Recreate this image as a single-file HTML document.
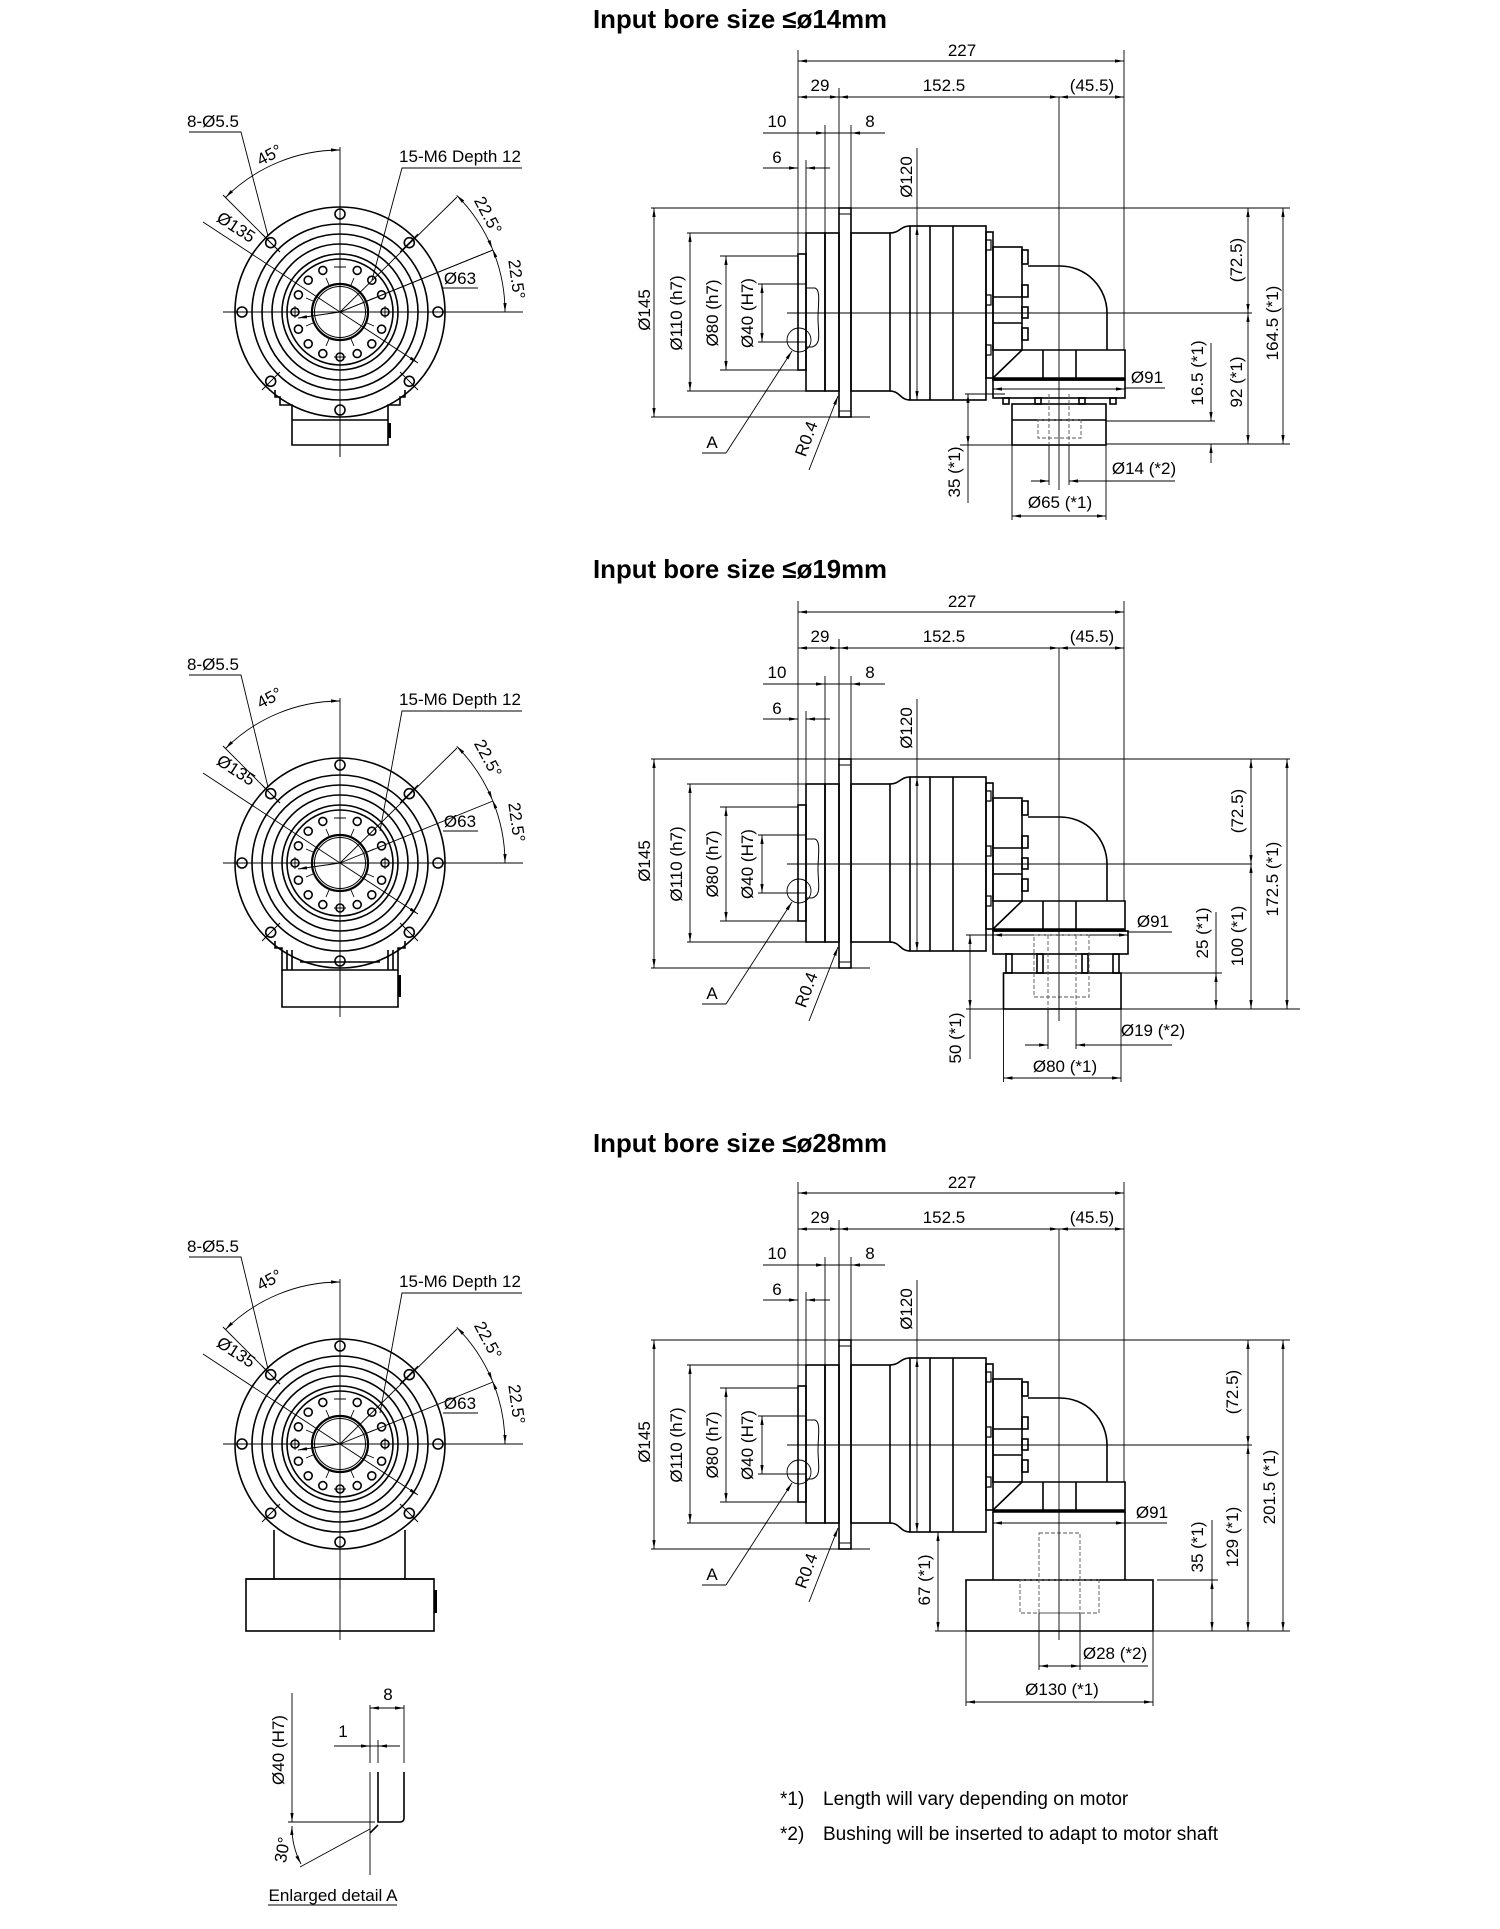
<!DOCTYPE html>
<html><head><meta charset="utf-8"><style>
html,body{margin:0;padding:0;background:#fff}
svg{display:block}
text{font-family:"Liberation Sans",sans-serif;font-size:17px;fill:#000;text-anchor:middle}
.ti{font-size:26px;font-weight:bold}
.fn{font-size:19px;text-anchor:start}
.o{fill:none;stroke:#000;stroke-width:1.6}
.d{fill:none;stroke:#000;stroke-width:0.9}
.a{fill:none;stroke:#000;stroke-width:0.9;marker-end:url(#ar)}
.aa{fill:none;stroke:#000;stroke-width:0.9;marker-end:url(#ar);marker-start:url(#ar)}
.ds{fill:none;stroke:#555;stroke-width:0.9;stroke-dasharray:4 2}
</style></head><body>
<svg width="1500" height="1929" viewBox="0 0 1500 1929" xmlns="http://www.w3.org/2000/svg">
<defs>
<marker id="ar" viewBox="0 0 10 10" refX="10" refY="5" markerWidth="9" markerHeight="9" orient="auto-start-reverse" markerUnits="userSpaceOnUse"><path d="M0,3.2 L10,5 L0,6.8 z" fill="#000"/></marker>
<g id="fv">
<g class="o"><circle r="105"/><circle r="88"/><circle r="78"/><circle r="68"/><circle r="58"/><circle r="53"/><circle r="28" stroke-width="2.2"/><circle r="25.5" stroke-width="1"/></g>
<g class="o" stroke-width="1.3">
<circle cx="98" cy="0" r="5"/><circle cx="69.3" cy="69.3" r="5"/><circle cx="0" cy="98" r="5"/><circle cx="-69.3" cy="69.3" r="5"/><circle cx="-98" cy="0" r="5"/><circle cx="-69.3" cy="-69.3" r="5"/><circle cx="0" cy="-98" r="5"/><circle cx="69.3" cy="-69.3" r="5"/>
<circle cx="17.2" cy="-41.6" r="4"/><circle cx="31.8" cy="-31.8" r="4"/><circle cx="41.6" cy="-17.2" r="4"/><circle cx="45" cy="0" r="4"/><circle cx="41.6" cy="17.2" r="4"/><circle cx="31.8" cy="31.8" r="4"/><circle cx="17.2" cy="41.6" r="4"/><circle cx="0" cy="45" r="4"/>
<circle cx="-17.2" cy="-41.6" r="4"/><circle cx="-31.8" cy="-31.8" r="4"/><circle cx="-41.6" cy="-17.2" r="4"/><circle cx="-45" cy="0" r="4"/><circle cx="-41.6" cy="17.2" r="4"/><circle cx="-31.8" cy="31.8" r="4"/><circle cx="-17.2" cy="41.6" r="4"/>
</g>
<g class="d" stroke-width="0.7">
<path d="M-60,-60 L-78,-78 M60,60 L78,78 M-60,60 L-78,78 M60,-60 L78,-78"/>
<path d="M-6,-45H6 M-6,45H6 M45,-6V6 M-45,-6V6 M11,-27 L14,-34 M-11,-27 L-14,-34 M11,27 L14,34 M-11,27 L-14,34 M27,-11 L34,-14 M-27,-11 L-34,-14 M27,11 L34,14 M-27,11 L-34,14"/>
</g>
<path class="d" d="M-117,0 H183 M0,-165 V145"/>
</g>
<g id="body" class="o">
<rect x="798" y="254" width="8" height="116"/>
<path d="M798,284 H806 M798,342 H806" stroke-width="1"/>
<rect x="806" y="233" width="19" height="158"/>
<rect x="825" y="233" width="14" height="158"/>
<rect x="839" y="208" width="12" height="209"/>
<path d="M839,214 H851 M839,411 H851" stroke-width="1"/>
<rect x="851" y="233" width="39" height="158"/>
<path d="M890,233 C900,233 900,226 910,226 M890,391 C900,391 900,400 910,400"/>
<rect x="910" y="226" width="76" height="174"/>
<path d="M930,226 V400 M953,226 V400"/>
<rect x="986" y="232" width="7" height="146"/>
<path d="M986,240 h5 v10 h-5 M986,295 h5 v10 h-5 M986,345 h5 v10 h-5" stroke-width="1.2"/>
<rect x="993" y="247" width="29" height="103"/>
<path d="M993,297 H1022 M993,323 H1022"/>
<rect x="1022" y="250" width="6" height="14"/><rect x="1022" y="285" width="6" height="12"/><rect x="1022" y="307" width="6" height="11"/><rect x="1022" y="328" width="6" height="12"/>
<path d="M1028,266 H1060 A47,47 0 0 1 1107,313 V350"/>
<path d="M1022,350 H1125 V380 H993 V378 Z"/>
<path d="M1043,350 V378 M1076,350 V378"/>
<path d="M993,378.5 H1125" stroke-width="2.6"/>
<path d="M806,288 H815 C821,290 818,305 818,318 C818,333 822,344 812,347 H806" stroke-width="1"/>
</g>
<g id="cdim">
<path class="d" d="M798,50 V254 M1124,50 V350 M839,88 V208 M825,125 V233 M851,125 V208 M806,160 V254 M917,148 V226"/>
<path class="aa" d="M798,61 H1124"/>
<path class="aa" d="M798,97 H839"/><path class="aa" d="M839,97 H1059"/><path class="aa" d="M1059,97 H1124"/>
<path class="a" d="M763,133 H825"/><path class="a" d="M885,133 H851"/><path class="d" d="M825,133 H851"/>
<path class="a" d="M763,168 H798"/><path class="a" d="M830,168 H806"/>
<path class="d" d="M651,208 H1290 M651,417 H870 M687,233 H806 M687,391 H806 M720,256 H798 M720,370 H798 M758,284 H806 M758,342 H806 M787,313 H1252"/>
<path class="aa" d="M654,208 V417"/><path class="aa" d="M690,233 V391"/><path class="aa" d="M726,256 V370"/><path class="aa" d="M762,284 V342"/>
<path class="aa" d="M917,226 V400"/>
<circle class="d" cx="799" cy="340" r="12"/>
<path class="a" d="M726,453 L792,351"/><path class="d" d="M702,453 H726"/>
<path class="a" d="M809,470 L838,396"/>
</g>
</defs>

<!-- ===== VIEW 1 ===== -->
<text class="ti" x="740" y="28" textLength="294" lengthAdjust="spacingAndGlyphs">Input bore size ≤ø14mm</text>
<use href="#fv" transform="translate(340,312)"/>
<path class="o" d="M275,390 V397 H280 V405 H292 V445 H388 V405 H400 V397 H405 V390"/>
<path class="o" d="M292,420 H388" stroke-width="2.4"/>
<rect x="388" y="423" width="3" height="15" fill="#000"/>
<path class="d" d="M340,420 V457"/>
<g>
<text x="213" y="127">8-Ø5.5</text><path class="d" d="M189,132 H241 L268,236"/>
<path class="aa" d="M340,150 A162,162 0 0 0 225.5,197.5"/><path class="d" d="M280,252 L223,195"/>
<text transform="translate(272,160) rotate(-28)">45°</text>
<text x="460" y="162">15-M6 Depth 12</text><path class="d" d="M522,168 H402 L372,280"/>
<text transform="translate(233,232) rotate(33)">Ø135</text><path class="d" d="M203,222 L340,312"/><path class="a" d="M340,312 L418,363"/>
<path class="d" d="M340,312 L457,197 M340,312 L493,250"/>
<path class="aa" d="M456.7,195.3 A165,165 0 0 1 492.4,248.9"/><path class="aa" d="M492.4,248.9 A165,165 0 0 1 505,312"/>
<text transform="translate(483,218) rotate(62)">22.5°</text>
<text transform="translate(511,280) rotate(82)">22.5°</text>
<text x="460" y="284">Ø63</text><path class="d" d="M443,288 H478 M493,250 L340,312"/><path class="a" d="M340,312 L298,318"/>
</g>
<use href="#body"/>
<use href="#cdim"/>
<g>
<rect class="o" x="993" y="380" width="132" height="18"/>
<path class="aa" d="M993,389 H1125"/>
<g class="o"><rect x="1003" y="398" width="6" height="6"/><rect x="1035" y="398" width="6" height="6"/><rect x="1079" y="398" width="6" height="6"/><rect x="1110" y="398" width="6" height="6"/></g>
<rect class="o" x="1012" y="404" width="94" height="41"/><path class="o" d="M1012,420 H1106" stroke-width="1"/>
<rect class="ds" x="1038" y="420" width="43" height="18"/>
<path class="ds" d="M1049,394 V445 M1069,394 V445"/>
<path class="d" d="M1049,445 V485 M1069,445 V485 M1059,97 V490"/>
<path class="aa" d="M1248,208 V313"/><path class="aa" d="M1248,313 V444"/><path class="aa" d="M1283,208 V444"/>
<path class="d" d="M1106,421 H1215 M1106,444 H1290"/>
<path class="a" d="M1211,343 V421"/><path class="a" d="M1211,463 V444"/>
<path class="d" d="M965,394 H1005 M960,445 H1012"/>
<path class="aa" d="M968,394 V445"/><path class="d" d="M968,445 V503"/>
<path class="a" d="M1031,481 H1049"/><path class="a" d="M1175,481 H1069"/>
<path class="d" d="M1012,445 V520 M1106,445 V520"/><path class="aa" d="M1012,516 H1106"/>
<path class="d" d="M1125,388 H1165"/>
<text x="1147" y="383">Ø91</text>
<text transform="translate(1237,260) rotate(-90)" dy="5">(72.5)</text>
<text transform="translate(1237,382) rotate(-90)" dy="5">92 (*1)</text>
<text transform="translate(1273,323) rotate(-90)" dy="5">164.5 (*1)</text>
<text transform="translate(1198,373) rotate(-90)" dy="5">16.5 (*1)</text>
<text transform="translate(955,472) rotate(-90)" dy="5">35 (*1)</text>
<text x="1144" y="474">Ø14 (*2)</text>
<text x="1060" y="508">Ø65 (*1)</text>
</g>
<g>
<text x="962" y="56">227</text><text x="820" y="91">29</text><text x="944" y="91">152.5</text><text x="1092" y="91">(45.5)</text>
<text x="777" y="127">10</text><text x="870" y="127">8</text><text x="777" y="163">6</text>
<text transform="translate(907,177) rotate(-90)" dy="5">Ø120</text>
<text transform="translate(645,310) rotate(-90)" dy="5">Ø145</text>
<text transform="translate(677,313) rotate(-90)" dy="5">Ø110 (h7)</text>
<text transform="translate(713,313) rotate(-90)" dy="5">Ø80 (h7)</text>
<text transform="translate(748,313) rotate(-90)" dy="5">Ø40 (H7)</text>
<text x="712" y="448">A</text>
<text transform="translate(807,439) rotate(-70)" dy="5">R0.4</text>
</g>

<!-- ===== VIEW 2 ===== -->
<text class="ti" x="740" y="578" textLength="294" lengthAdjust="spacingAndGlyphs">Input bore size ≤ø19mm</text>
<use href="#fv" transform="translate(340,863)"/>
<path class="o" d="M275,941 V948 H282 V970 H398 V948 H405 V941"/>
<path class="o" d="M282,970 V1007 H398 V970"/>
<path class="o" d="M287,950 V970 M292,950 V970 M388,950 V970 M393,950 V970 M300,962 H380" stroke-width="1"/>
<rect x="398" y="975" width="3" height="22" fill="#000"/>
<path class="d" d="M340,970 V1017"/>
<g transform="translate(0,543)">
<text x="213" y="127">8-Ø5.5</text><path class="d" d="M189,132 H241 L268,244"/>
<text transform="translate(272,160) rotate(-28)">45°</text>
<text x="460" y="162">15-M6 Depth 12</text><path class="d" d="M522,168 H402 L380,288"/>
<text transform="translate(233,232) rotate(33)">Ø135</text>
<text transform="translate(483,218) rotate(62)">22.5°</text>
<text transform="translate(511,280) rotate(82)">22.5°</text>
<text x="460" y="284">Ø63</text><path class="d" d="M443,288 H478"/>
</g>
<g transform="translate(0,551)">
<path class="aa" d="M340,150 A162,162 0 0 0 225.5,197.5"/><path class="d" d="M280,252 L223,195"/>
<path class="d" d="M203,222 L340,312"/><path class="a" d="M340,312 L418,363"/>
<path class="d" d="M340,312 L457,197 M340,312 L493,250"/>
<path class="aa" d="M456.7,195.3 A165,165 0 0 1 492.4,248.9"/><path class="aa" d="M492.4,248.9 A165,165 0 0 1 505,312"/>
<path class="a" d="M340,312 L298,318"/>
<use href="#body"/>
<use href="#cdim"/>
<rect class="o" x="993" y="380" width="135" height="23"/>
<path class="aa" d="M993,384 H1128"/>
<g class="o" stroke-width="1.2"><rect x="1006" y="403" width="6" height="19"/><rect x="1037" y="403" width="6" height="19"/><rect x="1082" y="403" width="6" height="19"/><rect x="1113" y="403" width="6" height="19"/></g>
<rect class="o" x="1003.5" y="422" width="117.5" height="36"/>
<rect class="ds" x="1034" y="384" width="55" height="62"/>
<path class="ds" d="M1048,384 V458 M1076,384 V458"/>
<path class="d" d="M1048,458 V498 M1076,458 V498 M1059,97 V470"/>
<path class="aa" d="M1251,208 V313"/><path class="aa" d="M1251,313 V458"/><path class="aa" d="M1287,208 V458"/>
<path class="d" d="M1121,422 H1222 M1121,458 H1300"/>
<path class="d" d="M1216,361 V422"/><path class="aa" d="M1216,422 V458"/>
<path class="d" d="M966,384 H993 M966,458 H1003"/>
<path class="aa" d="M970,384 V458"/><path class="d" d="M970,458 V508"/>
<path class="a" d="M1025,494 H1048"/><path class="a" d="M1172,494 H1076"/>
<path class="d" d="M1003.5,458 V531 M1121,458 V531"/><path class="aa" d="M1003.5,527 H1121"/>
<path class="d" d="M1128,381 H1172"/>
<text x="1153" y="376">Ø91</text>
<text transform="translate(1238,260) rotate(-90)" dy="5">(72.5)</text>
<text transform="translate(1238,385) rotate(-90)" dy="5">100 (*1)</text>
<text transform="translate(1273,328) rotate(-90)" dy="5">172.5 (*1)</text>
<text transform="translate(1203,382) rotate(-90)" dy="5">25 (*1)</text>
<text transform="translate(956,487) rotate(-90)" dy="5">50 (*1)</text>
<text x="1153" y="485">Ø19 (*2)</text>
<text x="1065" y="521">Ø80 (*1)</text>
<text x="962" y="56">227</text><text x="820" y="91">29</text><text x="944" y="91">152.5</text><text x="1092" y="91">(45.5)</text>
<text x="777" y="127">10</text><text x="870" y="127">8</text><text x="777" y="163">6</text>
<text transform="translate(907,177) rotate(-90)" dy="5">Ø120</text>
<text transform="translate(645,310) rotate(-90)" dy="5">Ø145</text>
<text transform="translate(677,313) rotate(-90)" dy="5">Ø110 (h7)</text>
<text transform="translate(713,313) rotate(-90)" dy="5">Ø80 (h7)</text>
<text transform="translate(748,313) rotate(-90)" dy="5">Ø40 (H7)</text>
<text x="712" y="448">A</text>
<text transform="translate(807,439) rotate(-70)" dy="5">R0.4</text>
</g>

<!-- ===== VIEW 3 ===== -->
<text class="ti" x="740" y="1152" textLength="294" lengthAdjust="spacingAndGlyphs">Input bore size ≤ø28mm</text>
<use href="#fv" transform="translate(340,1444)"/>
<path class="o" d="M274,1530 V1579 M405,1530 V1579"/>
<rect class="o" x="246" y="1579" width="188" height="52"/>
<path class="o" d="M246,1579 H434" stroke-width="2.4"/>
<rect x="434" y="1590" width="3" height="23" fill="#000"/>
<path class="d" d="M340,1579 V1640"/>
<g transform="translate(0,1125)">
<text x="213" y="127">8-Ø5.5</text><path class="d" d="M189,132 H241 L268,244"/>
<text transform="translate(272,160) rotate(-28)">45°</text>
<text x="460" y="162">15-M6 Depth 12</text><path class="d" d="M522,168 H402 L380,288"/>
<text transform="translate(233,232) rotate(33)">Ø135</text>
<text transform="translate(483,218) rotate(62)">22.5°</text>
<text transform="translate(511,280) rotate(82)">22.5°</text>
<text x="460" y="284">Ø63</text><path class="d" d="M443,288 H478"/>
</g>
<g transform="translate(0,1132)">
<path class="aa" d="M340,150 A162,162 0 0 0 225.5,197.5"/><path class="d" d="M280,252 L223,195"/>
<path class="d" d="M203,222 L340,312"/><path class="a" d="M340,312 L418,363"/>
<path class="d" d="M340,312 L457,197 M340,312 L493,250"/>
<path class="aa" d="M456.7,195.3 A165,165 0 0 1 492.4,248.9"/><path class="aa" d="M492.4,248.9 A165,165 0 0 1 505,312"/>
<path class="a" d="M340,312 L298,318"/>
<use href="#body"/>
<use href="#cdim"/>
<path class="o" d="M993,380 V448 M1125,380 V448"/>
<rect class="o" x="966" y="448" width="187" height="51"/>
<rect class="ds" x="1039" y="401" width="41" height="80"/>
<rect class="ds" x="1020" y="448" width="79" height="33"/>
<path class="aa" d="M993,391 H1125"/>
<path class="d" d="M1039,481 V538 M1080,481 V538 M1059,97 V508"/>
<path class="aa" d="M1248,208 V313"/><path class="aa" d="M1248,313 V499"/><path class="aa" d="M1283,208 V499"/>
<path class="d" d="M1157,448 H1218 M935,499 H1290"/>
<path class="d" d="M1212,388 V448"/><path class="aa" d="M1212,448 V499"/>
<path class="d" d="M935,400 H960"/><path class="aa" d="M938,400 V499"/>
<path class="aa" d="M1039,534 H1080"/><path class="d" d="M1080,534 H1148"/>
<path class="d" d="M966,499 V574 M1153,499 V574"/><path class="aa" d="M966,570 H1153"/>
<path class="d" d="M1125,391 H1167"/>
<text x="1152" y="386">Ø91</text>
<text transform="translate(1233,260) rotate(-90)" dy="5">(72.5)</text>
<text transform="translate(1233,405) rotate(-90)" dy="5">129 (*1)</text>
<text transform="translate(1270,355) rotate(-90)" dy="5">201.5 (*1)</text>
<text transform="translate(1198,415) rotate(-90)" dy="5">35 (*1)</text>
<text transform="translate(925,448) rotate(-90)" dy="5">67 (*1)</text>
<text x="1115" y="527">Ø28 (*2)</text>
<text x="1062" y="563">Ø130 (*1)</text>
<text x="962" y="56">227</text><text x="820" y="91">29</text><text x="944" y="91">152.5</text><text x="1092" y="91">(45.5)</text>
<text x="777" y="127">10</text><text x="870" y="127">8</text><text x="777" y="163">6</text>
<text transform="translate(907,177) rotate(-90)" dy="5">Ø120</text>
<text transform="translate(645,310) rotate(-90)" dy="5">Ø145</text>
<text transform="translate(677,313) rotate(-90)" dy="5">Ø110 (h7)</text>
<text transform="translate(713,313) rotate(-90)" dy="5">Ø80 (h7)</text>
<text transform="translate(748,313) rotate(-90)" dy="5">Ø40 (H7)</text>
<text x="712" y="448">A</text>
<text transform="translate(807,439) rotate(-70)" dy="5">R0.4</text>
</g>

<!-- ===== DETAIL A ===== -->
<path class="a" d="M292,1693 V1822"/>
<text transform="translate(279,1750) rotate(-90)" dy="5">Ø40 (H7)</text>
<path class="d" d="M288,1822 H375"/>
<path class="d" d="M370,1705 V1763 M370,1772 V1875 M404,1705 V1763 M378,1740 V1763"/>
<path class="aa" d="M370,1708 H404"/>
<text x="388" y="1700">8</text>
<path class="a" d="M334,1746 H370"/><path class="a" d="M400,1746 H378"/><path class="d" d="M370,1746 H378"/>
<text x="343" y="1737">1</text>
<path class="o" d="M378,1772 V1822 H400 Q404,1822 404,1818 V1772"/>
<path class="o" d="M370,1833 L378,1825"/>
<path class="d" d="M370,1829 L300,1867"/>
<path class="aa" d="M292,1826 A78,78 0 0 0 301,1864"/>
<text transform="translate(283,1850) rotate(-80)" dy="5">30°</text>
<text x="333" y="1901" textLength="129" lengthAdjust="spacingAndGlyphs">Enlarged detail A</text>
<path class="d" d="M268,1905 H397"/>

<!-- ===== FOOTNOTES ===== -->
<text class="fn" x="780" y="1805">*1)</text><text class="fn" x="823" y="1805">Length will vary depending on motor</text>
<text class="fn" x="780" y="1840">*2)</text><text class="fn" x="823" y="1840">Bushing will be inserted to adapt to motor shaft</text>
</svg>
</body></html>
